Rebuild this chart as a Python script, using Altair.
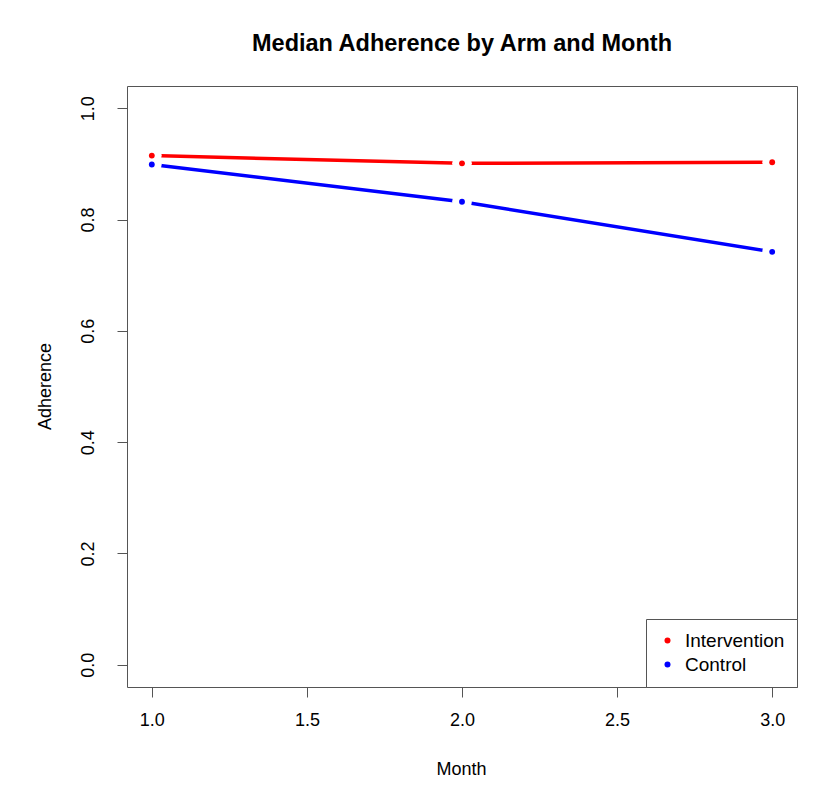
import altair as alt
import pandas as pd

months = [1, 2, 3]
arms = ["Intervention", "Control"]
intervention = [0.915, 0.901, 0.903]
control = [0.899, 0.832, 0.742]
arm_colors = ["#ff0000", "#0000ff"]
x_ticks = [1.0, 1.5, 2.0, 2.5, 3.0]
y_ticks = [0.0, 0.2, 0.4, 0.6, 0.8, 1.0]

rows = []
for arm, vals in zip(arms, [intervention, control]):
    for m, v in zip(months, vals):
        rows.append({"Month": m, "Arm": arm, "Adherence": v})
df = pd.DataFrame(rows)

FONT = "Liberation Sans"

x = alt.X(
    "Month:Q",
    scale=alt.Scale(domain=[0.92, 3.08], nice=False, zero=False),
    axis=alt.Axis(
        values=x_ticks, format=".1f", title="Month",
        titleX=334, titleY=82, titleAlign="center", titleBaseline="middle",
        labelPadding=14,
    ),
)
y = alt.Y(
    "Adherence:Q",
    scale=alt.Scale(domain=[-0.04, 1.04], nice=False, zero=False),
    axis=alt.Axis(
        values=y_ticks, format=".1f", title="Adherence",
        labelAngle=270, labelAlign="center", labelBaseline="bottom",
        labelPadding=20,
        titleAngle=270, titleX=-82, titleY=300, titleAlign="center",
        titleBaseline="middle",
    ),
)

color_scale = alt.Scale(domain=arms, range=arm_colors)

base = alt.Chart(df)

lines = base.mark_line(strokeWidth=3.5).encode(
    x=x, y=y, color=alt.Color("Arm:N", scale=color_scale, legend=None)
)
halos = base.mark_point(filled=True, color="white", size=390, opacity=1).encode(
    x=x, y=y
)
dots = base.mark_point(filled=True, size=34, opacity=1).encode(
    x=x, y=y,
    color=alt.Color(
        "Arm:N", scale=color_scale,
        legend=alt.Legend(
            title=None, orient="bottom-right", offset=0,
            strokeColor="#555", fillColor="white", padding=12,
            labelFontSize=19, labelFont=FONT, labelColor="#000",
            symbolType="circle", symbolSize=36, symbolStrokeWidth=0,
            labelOffset=8, rowPadding=4, cornerRadius=0,
        ),
    ),
)

chart = (
    alt.layer(lines, halos, dots)
    .resolve_scale(color="independent")
    .properties(
        width=670,
        height=601,
        padding={"left": 119, "top": 78, "right": 26, "bottom": 96},
        autosize=alt.AutoSizeParams(type="none"),
        background="white",
        title=alt.TitleParams(
            "Median Adherence by Arm and Month",
            font=FONT, fontSize=23.5, fontWeight="bold", color="#000",
            anchor="middle", offset=31,
        ),
    )
    .configure_view(stroke="#555", strokeWidth=1)
    .configure_axis(
        domain=False, grid=False, tickColor="#555", tickSize=10, tickWidth=1,
        labelFont=FONT, labelFontSize=18, labelColor="#000",
        titleFont=FONT, titleFontSize=18, titleFontWeight="normal", titleColor="#000",
    )
)

chart.save("out.html", embed_options={"renderer": "svg", "actions": False})
